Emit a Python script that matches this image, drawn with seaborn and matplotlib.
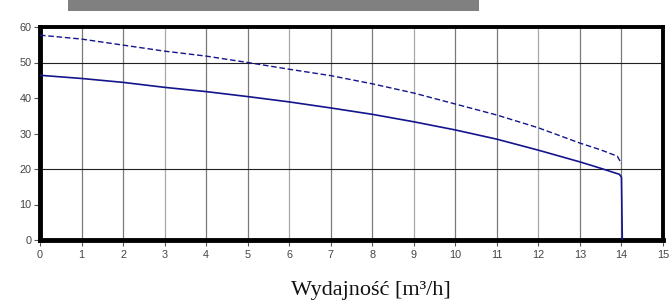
import matplotlib
matplotlib.use("Agg")
import matplotlib.pyplot as plt
import seaborn as sns
import pandas as pd
from matplotlib.patches import Rectangle

# Data
flow_dashed = [0, 1, 2, 3, 4, 5, 6, 7, 8, 9, 10, 11, 12, 13, 13.5, 13.9, 14.0]
head_dashed = [57.7, 56.6, 54.9, 53.2, 51.8, 50.0, 48.1, 46.3, 44.0, 41.4, 38.3, 35.2, 31.6, 27.3, 25.4, 23.6, 21.5]
flow_solid = [0, 1, 2, 3, 4, 5, 6, 7, 8, 9, 10, 11, 12, 13, 13.5, 13.95, 14.0, 14.02]
head_solid = [46.4, 45.5, 44.4, 43.0, 41.8, 40.4, 38.9, 37.2, 35.4, 33.3, 31.0, 28.4, 25.3, 22.0, 20.2, 18.5, 17.7, 0.0]
x_ticks = list(range(0, 16))
y_ticks = [0, 10, 20, 30, 40, 50, 60]
x_label = "Wydajność [m³/h]"

sns.set_theme(style="white")
plt.rcParams['font.family'] = ['Liberation Sans', 'DejaVu Sans']

fig = plt.figure(figsize=(6.7, 3.04), dpi=100)
ax = fig.add_axes([40/670, 64/304, 623/670, 213/304])

df_d = pd.DataFrame({"x": flow_dashed, "y": head_dashed})
df_s = pd.DataFrame({"x": flow_solid, "y": head_solid})
line_color = "#14148c"
sns.lineplot(data=df_d, x="x", y="y", ax=ax, sort=False, color=line_color,
             linewidth=1.0, linestyle=(0, (4, 2)), zorder=5)
sns.lineplot(data=df_s, x="x", y="y", ax=ax, sort=False, color=line_color,
             linewidth=1.2, zorder=5)

ax.set_xlim(0, 15)
ax.set_ylim(0, 60)
ax.set_xticks(x_ticks)
ax.set_yticks(y_ticks)
ax.set_xticklabels([str(v) for v in x_ticks])
ax.set_yticklabels([str(v) for v in y_ticks])
ax.set_xlabel("")
ax.set_ylabel("")

# grid: vertical gray at integers, horizontal black at 20 and 50
for v in x_ticks[1:-1]:
    col = "#a8a8a8" if v % 3 == 0 else "#7a7a7a"
    ax.axvline(v, color=col, linewidth=0.9, zorder=1)
for v in [20, 50]:
    ax.axhline(v, color="#202020", linewidth=0.8, zorder=1)

for side in ["left", "bottom"]:
    ax.spines[side].set_linewidth(3.5)
    ax.spines[side].set_color("black")
for side in ["top", "right"]:
    ax.spines[side].set_linewidth(2.8)
    ax.spines[side].set_color("black")

ax.tick_params(axis="both", which="major", labelsize=7.8, labelcolor="#444444",
               direction="out", length=4, width=0.8, color="#555555", pad=2)
ax.tick_params(axis="x", bottom=True, pad=3)
ax.tick_params(axis="y", left=True)

fig.text(371/670, 13/304, x_label, ha="center", va="center",
         fontsize=16, family=["Liberation Serif", "DejaVu Serif"], color="#111111")

# gray banner at the top (cropped title)
fig.patches.append(Rectangle((68/670, 1 - 11/304), (479-68)/670, 11/304,
                             transform=fig.transFigure, facecolor="#808080",
                             edgecolor="none"))

fig.savefig("out.png", dpi=100)
